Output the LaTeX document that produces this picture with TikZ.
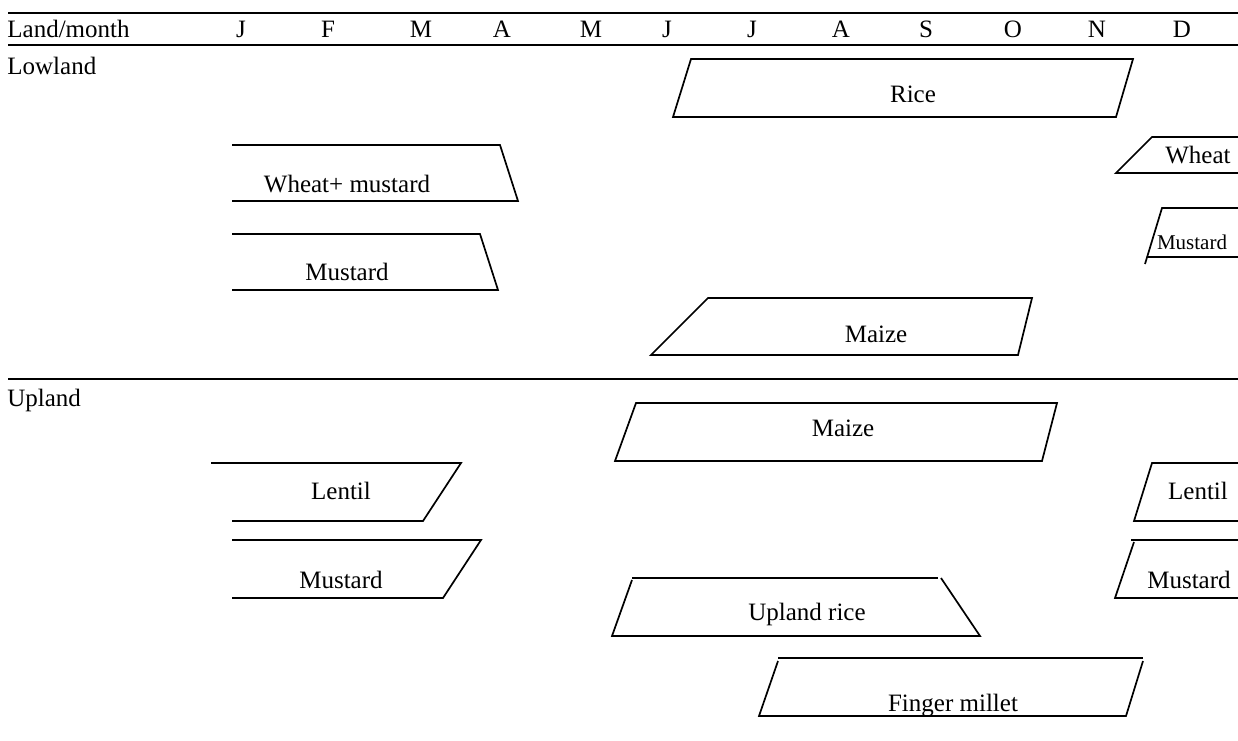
\documentclass[tikz,border=0pt]{standalone}
\usepackage{fontspec}
\setmainfont{Liberation Serif}
\begin{document}
\begin{tikzpicture}[x=0.5pt,y=-0.5pt,
  lbl/.style={anchor=base,inner sep=0pt,font=\fontsize{12.5}{14}\selectfont},
  lblw/.style={lbl,anchor=base west},
  small/.style={anchor=base,inner sep=0pt,font=\fontsize{10.5}{12}\selectfont},
  crop/.style={line width=0.85pt,line join=miter},
  rule/.style={line width=1.25pt}]
\useasboundingbox (0,0) rectangle (1238,740);
% rules
\coordinate (t1) at (8,13); \coordinate (t2) at (1238,13);
\coordinate (h1) at (8,45); \coordinate (h2) at (1238,45);
\coordinate (s1) at (8,379); \coordinate (s2) at (1238,379);
\draw[rule] (t1) -- (t2);
\draw[rule] (h1) -- (h2);
\draw[rule] (s1) -- (s2);
% header
\node[lblw] (hd) at (7,37) {Land/month};
\node[lbl] (m1) at (241,37) {J};
\node[lbl] (m2) at (328,37) {F};
\node[lbl] (m3) at (421,37) {M};
\node[lbl] (m4) at (502,37) {A};
\node[lbl] (m5) at (591,37) {M};
\node[lbl] (m6) at (667,37) {J};
\node[lbl] (m7) at (752,37) {J};
\node[lbl] (m8) at (841,37) {A};
\node[lbl] (m9) at (926,37) {S};
\node[lbl] (m10) at (1013,37) {O};
\node[lbl] (m11) at (1097,37) {N};
\node[lbl] (m12) at (1182,37) {D};
% Lowland
\node[lblw] (low) at (7,74) {Lowland};
\draw[crop] (691,59) -- (1133,59) -- (1116,117) -- (673,117) -- cycle;
\node[lbl] (rice) at (913,102) {Rice};
\draw[crop] (232,145) -- (500,145) -- (518,201) -- (232,201);
\node[lbl] (wm) at (347,192) {Wheat+ mustard};
\draw[crop] (232,234) -- (480,234) -- (498,290) -- (232,290);
\node[lbl] (must1) at (347,280) {Mustard};
\draw[crop] (1238,137) -- (1152,137) -- (1116,173) -- (1238,173);
\node[lbl] (wheat) at (1198,163) {Wheat};
\draw[crop] (1238,208) -- (1162,208) -- (1145,264);
\draw[crop] (1148,257) -- (1238,257);
\node[small] (must2) at (1192,249) {Mustard};
\draw[crop] (708,298) -- (1032,298) -- (1018,355) -- (651,355) -- cycle;
\node[lbl] (maize1) at (876,342) {Maize};
% Upland
\node[lblw] (up) at (7,406) {Upland};
\draw[crop] (636,403) -- (1057,403) -- (1042,461) -- (615,461) -- cycle;
\node[lbl] (maize2) at (843,436) {Maize};
\draw[crop] (211,463) -- (461,463) -- (423,521) -- (232,521);
\node[lbl] (lentil1) at (341,499) {Lentil};
\draw[crop] (1238,463) -- (1152,463) -- (1134,521) -- (1238,521);
\node[lbl] (lentil2) at (1198,499) {Lentil};
\draw[crop] (232,540) -- (481,540) -- (443,598) -- (232,598);
\node[lbl] (must3) at (341,588) {Mustard};
\draw[crop] (1238,540) -- (1131,540);
\draw[crop] (1134,542) -- (1115,598) -- (1238,598);
\node[lbl] (must4) at (1189,588) {Mustard};
\draw[crop] (632,578) -- (938,578);
\draw[crop] (941,578) -- (980,636) -- (612,636) -- (632,580);
\node[lbl] (urice) at (807,620) {Upland rice};
\draw[crop] (778,658) -- (1143,658);
\draw[crop] (1143,661) -- (1126,716) -- (759,716) -- (778,661);
\node[lbl] (fm) at (953,711) {Finger millet};
\end{tikzpicture}
\end{document}
